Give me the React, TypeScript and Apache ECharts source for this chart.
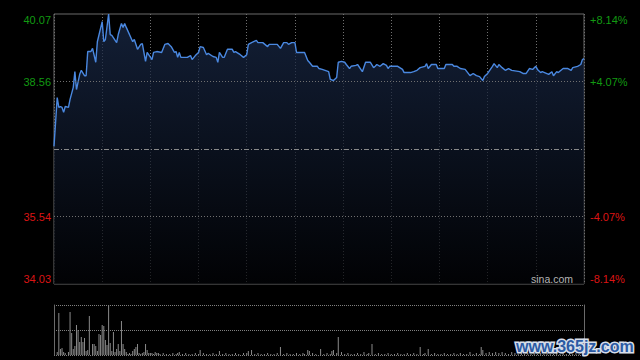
import React, { useEffect, useRef } from 'react';
import * as echarts from 'echarts';

// ---- data ----
const prevClose = 37.05;
const priceRange = 3.02; // offset from prevClose to top/bottom
const priceStep = 1.51;
const pctMax = 8.14;
const pctStep = 4.07;

// minutes since open (0..330) and prices
const minutes = [
  0, 2, 3, 4, 5, 6, 7, 9, 10, 12, 13, 14, 16, 17, 19, 20, 21, 23, 24, 26, 27, 30, 31, 32, 34, 35, 36, 39, 40, 42,
  43, 44, 45, 49, 50, 52, 54, 55, 57, 58, 61, 62, 64, 67, 69, 71, 73, 75, 76, 77, 78, 79, 83, 85, 86, 88, 90, 91,
  93, 95, 96, 99, 101, 102, 103, 105, 106, 108, 111, 112, 113, 116, 118, 120, 121, 123, 126, 127, 130, 133, 134,
  139, 141, 143, 145, 146, 148, 150, 151, 156, 158, 159, 161, 164, 165, 167, 171, 172, 174, 176, 177, 179, 181,
  182, 184, 185, 188, 189, 192, 194, 197, 199, 200, 201, 203, 205, 207, 208, 209, 214, 217, 218, 222, 224, 226,
  228, 231, 232, 233, 235, 238, 239, 243, 244, 248, 249, 251, 253, 256, 259, 261, 263, 265, 267, 268, 270, 273,
  274, 276, 277, 279, 281, 283, 285, 290, 292, 294, 296, 298, 300, 301, 303, 304, 308, 310, 311, 313, 314, 317,
  320, 322, 323, 326, 328, 329, 330,
];
const prices = [
  37.11, 38.2, 37.98, 38.0, 37.98, 37.87, 38.0, 37.98, 38.16, 38.43, 38.78, 38.38, 38.72, 38.81, 38.69, 38.69,
  39.23, 39.23, 39.3, 38.99, 39.45, 39.9, 39.45, 39.5, 40.07, 39.61, 39.59, 39.43, 39.61, 39.86, 39.77, 39.86,
  39.77, 39.45, 39.5, 39.28, 39.39, 39.41, 39.01, 39.21, 39.05, 39.21, 39.23, 39.21, 39.39, 39.41, 39.34, 39.21,
  39.23, 39.1, 39.21, 39.1, 39.1, 39.14, 39.05, 39.14, 39.21, 39.34, 39.32, 39.16, 39.19, 39.12, 39.1, 38.99,
  39.21, 39.1, 39.1, 39.28, 39.28, 39.21, 39.23, 39.16, 39.1, 39.16, 39.39, 39.43, 39.48, 39.43, 39.43, 39.34,
  39.39, 39.39, 39.3, 39.43, 39.43, 39.39, 39.43, 39.43, 39.21, 39.21, 39.03, 38.99, 38.9, 38.9, 38.85, 38.83,
  38.78, 38.61, 38.58, 38.65, 38.99, 39.01, 38.99, 38.94, 38.85, 38.9, 38.92, 38.94, 38.78, 38.99, 38.99, 38.87,
  38.9, 38.94, 38.9, 38.96, 38.92, 38.85, 38.9, 38.9, 38.83, 38.76, 38.76, 38.78, 38.81, 38.87, 38.9, 38.96,
  38.85, 38.94, 38.94, 38.85, 38.85, 38.94, 38.94, 38.9, 38.9, 38.85, 38.83, 38.69, 38.74, 38.69, 38.67, 38.58,
  38.67, 38.74, 38.9, 38.96, 38.87, 38.94, 38.87, 38.81, 38.85, 38.81, 38.78, 38.74, 38.74, 38.85, 38.83, 38.9,
  38.83, 38.76, 38.78, 38.72, 38.78, 38.69, 38.78, 38.76, 38.85, 38.85, 38.81, 38.87, 38.9, 38.94, 39.05, 39.07,
];

// volume: minute and volume (lots)
const volMinutes = [
  2, 3, 4, 5, 6, 7, 9, 10, 11, 12, 13, 14, 15, 16, 17, 18, 19, 20, 21, 22, 24, 25, 26, 27, 28, 29, 30, 31, 32, 33,
  34, 35, 36, 37, 38, 39, 40, 41, 42, 43, 44, 45, 46, 47, 48, 49, 50, 51, 52, 53, 54, 55, 56, 57, 58, 59, 60, 61,
  62, 63, 64, 65, 66, 68, 70, 72, 74, 76, 77, 78, 80, 82, 84, 86, 88, 90, 91, 93, 95, 97, 99, 101, 103, 105, 107,
  109, 111, 113, 115, 118, 120, 121, 123, 125, 127, 129, 131, 133, 135, 137, 139, 141, 143, 145, 147, 149, 151,
  153, 155, 156, 158, 159, 161, 163, 166, 168, 170, 172, 173, 174, 176, 177, 179, 181, 183, 185, 187, 189, 191,
  193, 195, 196, 198, 200, 202, 204, 206, 208, 210, 212, 214, 216, 218, 220, 222, 224, 226, 228, 230, 231, 233,
  235, 237, 239, 241, 243, 245, 247, 249, 251, 253, 255, 257, 259, 261, 263, 265, 266, 267, 269, 271, 273, 275,
  277, 279, 281, 283, 285, 287, 289, 291, 293, 295, 297, 299, 301, 303, 305, 307, 309, 311, 313, 315, 317, 319,
  321, 323, 325, 327, 329, 330,
];
const volumes = [
  3, 42, 6, 7, 3, 2, 3, 43, 22, 6, 9, 30, 25, 13, 18, 13, 17, 4, 5, 39, 11, 11, 9, 4, 21, 20, 30, 29, 15, 10,
  50, 12, 4, 23, 3, 6, 11, 4, 34, 11, 6, 3, 1, 2, 1, 4, 6, 8, 11, 2, 1, 2, 3, 11, 5, 2, 2, 2,
  1, 3, 2, 2, 1, 2, 1, 1, 2, 1, 2, 3, 1, 2, 1, 1, 2, 1, 5, 2, 1, 1, 2, 1, 4, 1, 2,
  1, 1, 2, 1, 2, 2, 4, 5, 1, 2, 1, 1, 2, 1, 1, 2, 8, 1, 2, 1, 1, 2,
  1, 2, 1, 5, 4, 2, 1, 6, 1, 2, 1, 4, 5, 2, 18, 3, 1, 2, 1, 1, 2, 1,
  3, 1, 2, 11, 1, 2, 1, 1, 2, 1, 1, 2, 1, 1, 2, 1, 2, 1, 8, 1, 2, 6,
  1, 2, 1, 1, 2, 1, 1, 2, 1, 2, 1, 1, 3, 1, 2, 1, 8, 5, 2, 3, 2, 3,
  2, 3, 2, 1, 3, 2, 1, 2, 1, 2, 1, 2, 1, 2, 1, 2, 1, 1, 2, 1, 2, 1,
  2, 1, 2, 1, 2, 3,
];
const volMax = 50;

const GREEN = '#129a12';
const RED = '#dc1414';
const FONT = 'Arial, "Liberation Sans", sans-serif';

export default function App() {
  const ref = useRef<HTMLDivElement>(null);

  useEffect(() => {
    if (!ref.current) return;
    const chart = echarts.init(ref.current, undefined, { renderer: 'svg' });

    const lineData = minutes.map((m, i) => [m, +(prices[i] - prevClose).toFixed(4)]);
    const volData = volMinutes.map((m, i) => [m, volumes[i]]);

    const dotted = { color: '#707070', width: 1, type: [1, 2] as number[] };

    chart.setOption({
      animation: false,
      backgroundColor: '#000',
      grid: [
        { left: 54, top: 14, width: 530, height: 270, show: true, borderColor: '#6a6a6a', borderWidth: 1, backgroundColor: 'transparent' },
        { left: 54, top: 305, width: 530, height: 50, show: false },
      ],
      xAxis: [
        {
          gridIndex: 0, type: 'value', min: 0, max: 330, interval: 30,
          axisLine: { show: false }, axisTick: { show: false }, axisLabel: { show: false },
          splitLine: { show: true, lineStyle: dotted },
        },
        {
          gridIndex: 1, type: 'value', min: 0, max: 330, interval: 30,
          axisLine: { show: false }, axisTick: { show: false }, axisLabel: { show: false },
          splitLine: { show: false },
        },
      ],
      yAxis: [
        {
          gridIndex: 0, type: 'value', min: -priceRange, max: priceRange, interval: priceStep,
          axisLine: { show: false }, axisTick: { show: false }, splitLine: { show: false },
          axisLabel: {
            margin: 3,
            fontSize: 11,
            fontFamily: FONT,
            verticalAlignMaxLabel: 'top',
            verticalAlignMinLabel: 'bottom',
            formatter: (v: number) => {
              if (Math.abs(v) < 1e-6) return '';
              const t = (prevClose + v).toFixed(2);
              return v > 0 ? `{up|${t}}` : `{dn|${t}}`;
            },
            rich: {
              up: { color: GREEN, fontSize: 11, fontFamily: FONT },
              dn: { color: RED, fontSize: 11, fontFamily: FONT },
            },
          },
        },
        {
          gridIndex: 0, type: 'value', position: 'right', min: -pctMax, max: pctMax, interval: pctStep,
          axisLine: { show: false }, axisTick: { show: false }, splitLine: { show: false },
          axisLabel: {
            margin: 6,
            fontSize: 11,
            fontFamily: FONT,
            verticalAlignMaxLabel: 'top',
            verticalAlignMinLabel: 'bottom',
            formatter: (v: number) => {
              if (Math.abs(v) < 1e-6) return '';
              const t = Math.abs(v).toFixed(2) + '%';
              return v > 0 ? `{up|+${t}}` : `{dn|-${t}}`;
            },
            rich: {
              up: { color: GREEN, fontSize: 11, fontFamily: FONT },
              dn: { color: RED, fontSize: 11, fontFamily: FONT },
            },
          },
        },
        {
          gridIndex: 1, type: 'value', min: 0, max: volMax, interval: volMax / 2,
          axisLine: { show: true, lineStyle: { color: '#6a6a6a', width: 1 } },
          axisTick: { show: false }, axisLabel: { show: false },
          splitLine: { show: true, lineStyle: { color: '#808080', width: 1, type: [1, 1] } },
        },
        {
          gridIndex: 1, type: 'value', position: 'right', min: 0, max: volMax, interval: volMax / 2,
          axisLine: { show: true, lineStyle: { color: '#6a6a6a', width: 1 } },
          axisTick: { show: false }, axisLabel: { show: false }, splitLine: { show: false },
        },
      ],
      series: [
        {
          type: 'line',
          xAxisIndex: 0,
          yAxisIndex: 0,
          data: lineData,
          showSymbol: false,
          symbol: 'none',
          lineStyle: { color: '#4a88e0', width: 1.4 },
          areaStyle: {
            origin: 'start',
            color: new echarts.graphic.LinearGradient(0, 0, 0, 1, [
              { offset: 0, color: '#1b2c4d' },
              { offset: 1, color: '#020306' },
            ]),
          },
          markLine: {
            silent: true,
            symbol: 'none',
            label: { show: false },
            data: [
              { yAxis: priceStep, lineStyle: { color: '#707070', width: 1, type: [1, 2] } },
              { yAxis: -priceStep, lineStyle: { color: '#707070', width: 1, type: [1, 2] } },
              { yAxis: 0, lineStyle: { color: '#8a8a8a', width: 1, type: [5, 2, 1, 2] } },
            ],
          },
        },
        {
          type: 'bar',
          xAxisIndex: 1,
          yAxisIndex: 2,
          data: volData,
          barWidth: 1,
          itemStyle: { color: '#8a8a8a' },
        },
      ],
      graphic: [
        {
          type: 'text', x: 573, y: 279, z: 10,
          style: { text: 'sina.com', fill: '#b4b4b4', font: `10.5px ${FONT}`, align: 'right', verticalAlign: 'middle' },
        },
        {
          type: 'text', x: 516, y: 346, z: 20,
          style: {
            text: 'www.365jz.com', fill: 'none', stroke: '#d6deea', lineWidth: 3,
            font: `bold 16px ${FONT}`, align: 'left', verticalAlign: 'middle',
          },
        },
        {
          type: 'text', x: 516, y: 346, z: 21,
          style: {
            text: 'www.365jz.com', fill: '#2c5aa3',
            font: `bold 16px ${FONT}`, align: 'left', verticalAlign: 'middle',
          },
        },
      ],
    });

    return () => chart.dispose();
  }, []);

  return (
    <div
      ref={ref}
      style={{ position: 'fixed', left: 0, top: 0, width: 640, height: 360, background: '#000' }}
    />
  );
}
